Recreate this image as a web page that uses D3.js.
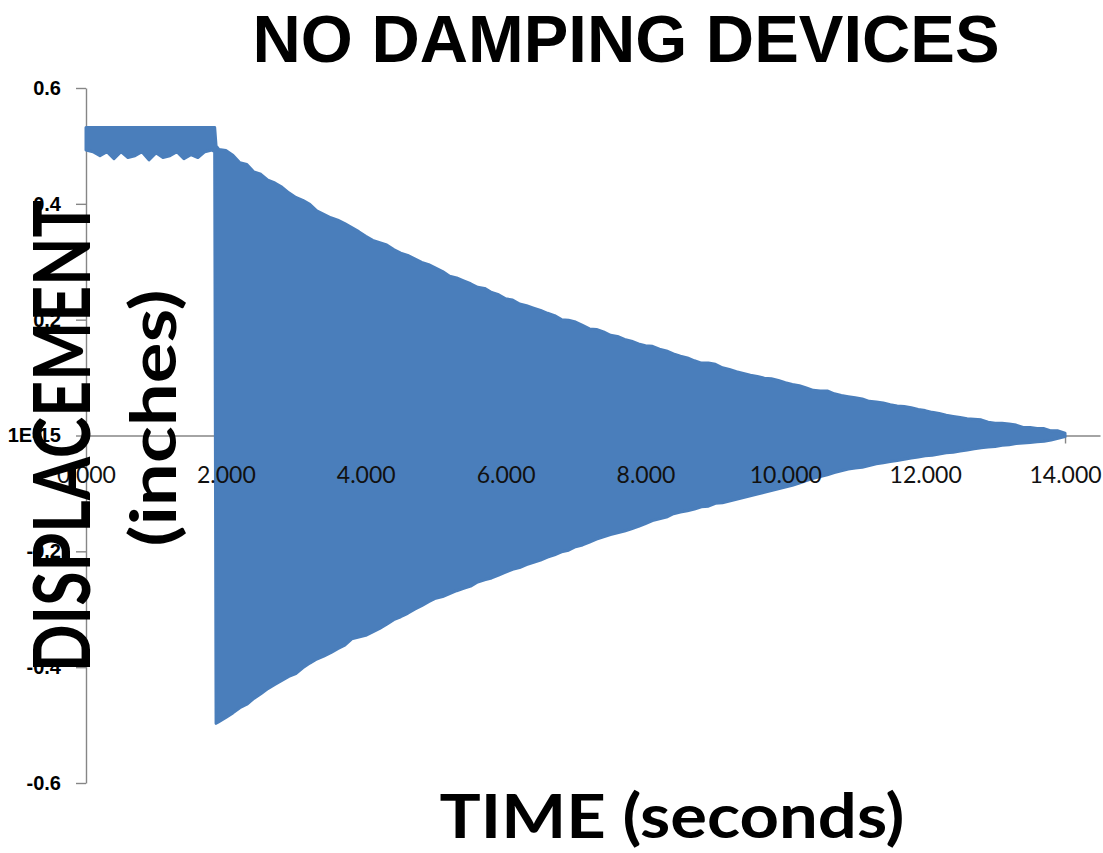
<!DOCTYPE html>
<html>
<head>
<meta charset="utf-8">
<script src="https://cdn.jsdelivr.net/npm/d3@7"></script>
<style>
  html, body { margin: 0; padding: 0; background: #ffffff; }
  svg { display: block; }
</style>
</head>
<body>
<svg id="chart" width="1103" height="853"></svg>
<script>
// ---- Displacement record: held position, then free decay after release ----
// Sample times (s) while the deck is held at its initial offset
const timeHold = [0.0, 0.1, 0.2, 0.3, 0.4, 0.5, 0.6, 0.7, 0.8, 0.9,
                  1.0, 1.1, 1.2, 1.3, 1.4, 1.5, 1.6, 1.7, 1.8, 1.84];
// Upper / lower extent of the trace (inches) while held
const upperHold = [0.532, 0.532, 0.532, 0.532, 0.532, 0.532, 0.532, 0.532, 0.532, 0.532,
                   0.532, 0.532, 0.532, 0.532, 0.532, 0.532, 0.532, 0.532, 0.532, 0.532];
const lowerHold = [0.493, 0.490, 0.483, 0.490, 0.478, 0.490, 0.480, 0.483, 0.490, 0.476,
                   0.488, 0.480, 0.483, 0.490, 0.478, 0.485, 0.480, 0.490, 0.493, 0.490];

// Sample times (s) of the free vibration after release
const timeFree = [1.86, 1.9,
  2.0, 2.1, 2.2, 2.3, 2.4, 2.5, 2.6, 2.7, 2.8, 2.9,
  3.0, 3.1, 3.2, 3.3, 3.4, 3.5, 3.6, 3.7, 3.8, 3.9,
  4.0, 4.1, 4.2, 4.3, 4.4, 4.5, 4.6, 4.7, 4.8, 4.9,
  5.0, 5.1, 5.2, 5.3, 5.4, 5.5, 5.6, 5.7, 5.8, 5.9,
  6.0, 6.1, 6.2, 6.3, 6.4, 6.5, 6.6, 6.7, 6.8, 6.9,
  7.0, 7.1, 7.2, 7.3, 7.4, 7.5, 7.6, 7.7, 7.8, 7.9,
  8.0, 8.1, 8.2, 8.3, 8.4, 8.5, 8.6, 8.7, 8.8, 8.9,
  9.0, 9.1, 9.2, 9.3, 9.4, 9.5, 9.6, 9.7, 9.8, 9.9,
  10.0, 10.1, 10.2, 10.3, 10.4, 10.5, 10.6, 10.7, 10.8, 10.9,
  11.0, 11.1, 11.2, 11.3, 11.4, 11.5, 11.6, 11.7, 11.8, 11.9,
  12.0, 12.1, 12.2, 12.3, 12.4, 12.5, 12.6, 12.7, 12.8, 12.9,
  13.0, 13.1, 13.2, 13.3, 13.4, 13.5, 13.6, 13.7, 13.8, 13.9,
  14.0];
// Positive peak displacement (inches) at each sample time
const upperFree = [0.500, 0.494,
  0.492, 0.484, 0.471, 0.468, 0.455, 0.451, 0.441, 0.436, 0.429, 0.419,
  0.411, 0.406, 0.399, 0.388, 0.382, 0.376, 0.372, 0.366, 0.359, 0.352,
  0.344, 0.337, 0.333, 0.329, 0.321, 0.315, 0.311, 0.305, 0.299, 0.295,
  0.289, 0.283, 0.275, 0.272, 0.267, 0.262, 0.256, 0.254, 0.247, 0.243,
  0.236, 0.234, 0.227, 0.224, 0.220, 0.216, 0.211, 0.207, 0.200, 0.199,
  0.196, 0.190, 0.184, 0.183, 0.179, 0.173, 0.171, 0.166, 0.163, 0.158,
  0.155, 0.154, 0.149, 0.146, 0.141, 0.137, 0.134, 0.129, 0.125, 0.125,
  0.123, 0.117, 0.114, 0.110, 0.107, 0.104, 0.102, 0.099, 0.098, 0.095,
  0.091, 0.088, 0.086, 0.082, 0.078, 0.077, 0.077, 0.072, 0.069, 0.067,
  0.065, 0.063, 0.059, 0.058, 0.056, 0.053, 0.051, 0.050, 0.048, 0.045,
  0.043, 0.040, 0.038, 0.035, 0.033, 0.031, 0.029, 0.028, 0.027, 0.023,
  0.021, 0.021, 0.020, 0.018, 0.014, 0.014, 0.012, 0.012, 0.008, 0.008,
  0.004];
// Negative peak displacement (inches) at each sample time
const lowerFree = [-0.497, -0.494,
  -0.487, -0.479, -0.470, -0.464, -0.454, -0.446, -0.437, -0.430, -0.423, -0.416,
  -0.411, -0.401, -0.393, -0.386, -0.381, -0.375, -0.368, -0.362, -0.351, -0.348,
  -0.345, -0.339, -0.333, -0.326, -0.318, -0.313, -0.307, -0.300, -0.294, -0.287,
  -0.281, -0.278, -0.273, -0.268, -0.264, -0.260, -0.253, -0.249, -0.246, -0.241,
  -0.236, -0.231, -0.228, -0.223, -0.219, -0.215, -0.210, -0.206, -0.201, -0.198,
  -0.192, -0.189, -0.184, -0.179, -0.175, -0.171, -0.168, -0.165, -0.161, -0.157,
  -0.152, -0.147, -0.144, -0.141, -0.135, -0.132, -0.130, -0.127, -0.123, -0.122,
  -0.117, -0.116, -0.113, -0.110, -0.107, -0.104, -0.101, -0.098, -0.095, -0.092,
  -0.089, -0.086, -0.082, -0.078, -0.074, -0.071, -0.068, -0.064, -0.061, -0.058,
  -0.056, -0.055, -0.052, -0.049, -0.047, -0.045, -0.043, -0.041, -0.039, -0.037,
  -0.035, -0.034, -0.032, -0.030, -0.029, -0.027, -0.025, -0.023, -0.021, -0.020,
  -0.019, -0.017, -0.016, -0.014, -0.013, -0.012, -0.011, -0.010, -0.008, -0.005,
  -0.002];

// Axis ticks
const xTickValues = [0, 2, 4, 6, 8, 10, 12, 14];
const yTickValues = [-0.6, -0.4, -0.2, 0, 0.2, 0.4, 0.6];
const yTickLabels = ["-0.6", "-0.4", "-0.2", "1E-15", "0.2", "0.4", "0.6"];

const chartTitle = "NO DAMPING DEVICES";
const yTitleMain = "DISPLACEMENT";
const yTitleUnit = "(inches)";
const xTitle = "TIME (seconds)";

// ---- Drawing ----
const svg = d3.select("#chart");
const seriesColor = "#4a7ebb";
const axisColor = "#868686";

const x = d3.scaleLinear().domain([0, 14.5]).range([86, 1100]);
const y = d3.scaleLinear().domain([-0.6, 0.6]).range([783, 88]);

const samples = timeHold.map((t, i) => ({ t, hi: upperHold[i], lo: lowerHold[i] }))
  .concat(timeFree.map((t, i) => ({ t, hi: upperFree[i], lo: lowerFree[i] })));

// Axis lines and tick marks (labels are drawn later, above the trace)
const xAxis = d3.axisBottom(x).tickValues(xTickValues).tickSize(8).tickSizeOuter(0)
  .tickFormat(d3.format(".3f")).tickPadding(23);
const yAxis = d3.axisLeft(y).tickValues(yTickValues).tickSize(10).tickSizeOuter(0)
  .tickFormat((d, i) => yTickLabels[i]).tickPadding(15);

function styleLines(g) {
  g.select(".domain").attr("stroke", axisColor).attr("stroke-width", 1.4);
  g.selectAll(".tick line").attr("stroke", axisColor).attr("stroke-width", 1.4);
}

const yAxisG = svg.append("g").attr("transform", `translate(${x(0)},0)`).call(yAxis);
styleLines(yAxisG);
yAxisG.selectAll("text").remove();

const xAxisG = svg.append("g").attr("transform", `translate(0,${y(0)})`).call(xAxis);
styleLines(xAxisG);
xAxisG.selectAll("text").remove();

// Displacement trace: band between positive and negative peaks
const band = d3.area()
  .x(d => x(d.t))
  .y0(d => y(d.lo))
  .y1(d => y(d.hi));

svg.append("path")
  .datum(samples)
  .attr("d", band)
  .attr("fill", seriesColor)
  .attr("stroke", seriesColor)
  .attr("stroke-width", 3)
  .attr("stroke-linejoin", "round");

// Tick labels on top of the trace
const xLabelG = svg.append("g").attr("transform", `translate(0,${y(0)})`).call(xAxis);
xLabelG.select(".domain").remove();
xLabelG.selectAll(".tick line").remove();
xLabelG.selectAll("text")
  .attr("font-family", "Lato, 'Open Sans', sans-serif")
  .attr("font-size", 23)
  .attr("fill", "#111");

const yLabelG = svg.append("g").attr("transform", `translate(${x(0)},0)`).call(yAxis);
yLabelG.select(".domain").remove();
yLabelG.selectAll(".tick line").remove();
yLabelG.selectAll("text")
  .attr("font-family", "'Liberation Sans', Arial, sans-serif")
  .attr("font-weight", 700)
  .attr("font-size", 20)
  .attr("fill", "#000");

// Titles
svg.append("text")
  .attr("x", 626).attr("y", 62)
  .attr("text-anchor", "middle")
  .attr("font-family", "'Liberation Sans', Arial, sans-serif")
  .attr("font-weight", 700)
  .attr("font-size", 67)
  .attr("textLength", 747)
  .attr("lengthAdjust", "spacingAndGlyphs")
  .text(chartTitle);

svg.append("text")
  .attr("transform", "translate(90,436) rotate(-90)")
  .attr("text-anchor", "middle")
  .attr("font-family", "Lato, sans-serif")
  .attr("font-weight", 700)
  .attr("font-size", 78)
  .attr("textLength", 472)
  .attr("lengthAdjust", "spacingAndGlyphs")
  .text(yTitleMain);

svg.append("text")
  .attr("transform", "translate(176,418) rotate(-90)")
  .attr("text-anchor", "middle")
  .attr("font-family", "Lato, sans-serif")
  .attr("font-weight", 700)
  .attr("font-size", 64)
  .attr("textLength", 257)
  .attr("lengthAdjust", "spacingAndGlyphs")
  .text(yTitleUnit);

svg.append("text")
  .attr("x", 672).attr("y", 838)
  .attr("text-anchor", "middle")
  .attr("font-family", "Lato, sans-serif")
  .attr("font-weight", 700)
  .attr("font-size", 62)
  .attr("textLength", 465)
  .attr("lengthAdjust", "spacingAndGlyphs")
  .text(xTitle);
</script>
</body>
</html>
